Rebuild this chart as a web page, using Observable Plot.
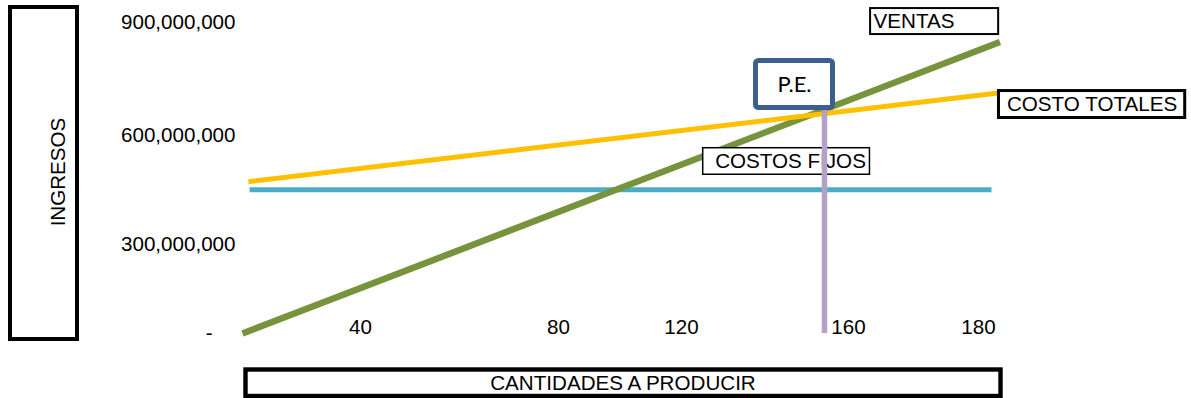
<!DOCTYPE html>
<html>
<head>
<meta charset="utf-8">
<script src="https://cdn.jsdelivr.net/npm/d3@7"></script>
<script src="https://cdn.jsdelivr.net/npm/@observablehq/plot@0.6"></script>
<style>
  html, body { margin: 0; padding: 0; background: #fff; }
</style>
</head>
<body>
<div id="chart"></div>
<script>
// ---- data ----
const yTicks = [0, 300e6, 600e6, 900e6];
const xTicks = [40, 80, 120, 160, 180];

const ventasQ = [0, 183.3];
const ventasV = [0, 848e6];

const costoTotalQ = [2.0, 183.7];
const costoTotalV = [473e6, 714e6];

const costosFijosQ = [2.4, 182];
const costosFijosV = [451e6, 451e6];

const peQ = 154.25;
const peV = 666e6;

const seriesLabels = ["VENTAS", "COSTO TOTALES", "COSTOS FIJOS", "P.E."];
const axisTitles = ["INGRESOS", "CANTIDADES A PRODUCIR"];

// ---- tables built from the arrays ----
const toRows = (qs, vs) => qs.map((q, i) => ({q, v: vs[i]}));
const ventas = toRows(ventasQ, ventasV);
const costoTotal = toRows(costoTotalQ, costoTotalV);
const costosFijos = toRows(costosFijosQ, costosFijosV);

// annotation boxes, in data coordinates
const boxes = [
  {label: seriesLabels[0], x1: 163.4, x2: 183.1, y1: 937e6, y2: 868e6, sw: 2, dx: 3},
  {label: seriesLabels[1], x1: 183.15, x2: 211.8, y1: 718e6, y2: 646.5e6, sw: 3, dx: 8},
  {label: seriesLabels[2], x1: 125.2, x2: 163.3, y1: 565e6, y2: 492e6, sw: 1.5, dx: 12}
];
const peBox = [{label: seriesLabels[3], x1: 137.84, x2: 156.29, y1: 797.8e6, y2: 673e6}];

const fmt = d3.format(",");
const font = "'Liberation Sans', Arial, Helvetica, sans-serif";
const fs = 20.6;

const boxMarks = boxes.flatMap(b => [
  Plot.rect([b], {x1: "x1", x2: "x2", y1: "y1", y2: "y2", fill: "white", stroke: "black", strokeWidth: b.sw}),
  Plot.text([b], {x: "x1", y: d => (d.y1 + d.y2) / 2, text: "label", textAnchor: "start", dx: b.dx, fill: "black", fontSize: fs})
]);

const chart = Plot.plot({
  width: 1191,
  height: 398,
  marginLeft: 242,
  marginRight: 189,
  marginTop: 22,
  marginBottom: 65,
  style: {fontFamily: font, fontSize: fs + "px", color: "#000", background: "#fff", overflow: "visible"},
  x: {type: "linear", domain: [0, 40, 80, 120, 160, 180], range: [242, 360, 558, 681, 848, 978]},
  y: {type: "linear", domain: [0, 300e6, 600e6, 900e6], range: [333, 244, 135, 22]},
  marks: [
    Plot.axisY(yTicks, {tickSize: 0, tickPadding: 7, label: null,
      tickFormat: d => d === 0 ? "-\u2007\u2007" : fmt(d), fill: "black", fontSize: fs}),
    Plot.axisX(xTicks, {tickSize: 0, tickPadding: -14.5, label: null, fill: "black", fontSize: fs}),
    Plot.line(costosFijos, {x: "q", y: "v", stroke: "#4bacc6", strokeWidth: 5, strokeLinecap: "butt"}),
    Plot.line(ventas, {x: "q", y: "v", stroke: "#77933c", strokeWidth: 6.5, strokeLinecap: "butt"}),
    Plot.line(costoTotal, {x: "q", y: "v", stroke: "#ffc000", strokeWidth: 5, strokeLinecap: "butt"}),
    ...boxMarks,
    Plot.ruleX([{q: peQ, v: peV}], {x: "q", y1: 0, y2: "v", stroke: "#b3a2c7", strokeWidth: 5.5}),
    Plot.rect(peBox, {x1: "x1", x2: "x2", y1: "y1", y2: "y2", fill: "white", stroke: "#3d5f8d", strokeWidth: 5, rx: 3}),
    Plot.text(peBox, {x: d => (d.x1 + d.x2) / 2, y: d => (d.y1 + d.y2) / 2, text: "label",
      fontFamily: "Lato, 'Open Sans', sans-serif", fontSize: 22, fill: "black", letterSpacing: "0.5px"})
  ]
});

// axis title boxes (layout decoration)
const svg = d3.select(chart);
const g = svg.append("g").attr("fill", "none").attr("stroke", "black");
g.append("rect").attr("x", 10).attr("y", 7).attr("width", 67).attr("height", 332).attr("stroke-width", 4);
g.append("rect").attr("x", 245.5).attr("y", 369.5).attr("width", 755).attr("height", 26.5).attr("stroke-width", 4.4);
svg.append("text")
  .attr("transform", "translate(58,172) rotate(-90)")
  .attr("text-anchor", "middle").attr("dy", "0.36em")
  .attr("font-family", font).attr("font-size", fs).attr("fill", "black")
  .text(axisTitles[0]);
svg.append("text")
  .attr("x", 623).attr("y", 383)
  .attr("text-anchor", "middle").attr("dy", "0.36em")
  .attr("font-family", font).attr("font-size", fs).attr("fill", "black")
  .text(axisTitles[1]);

document.getElementById("chart").append(chart);
</script>
</body>
</html>
